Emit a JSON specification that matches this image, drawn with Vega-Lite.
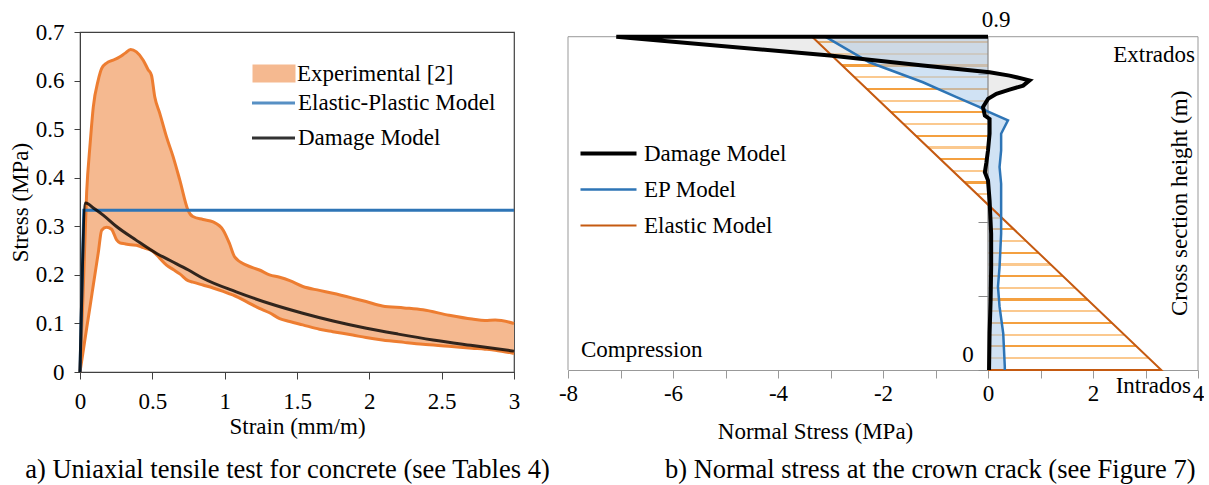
{
  "$schema": "https://vega.github.io/schema/vega-lite/v6.json",
  "padding": {"left": 8, "top": 8, "right": 0, "bottom": 0},
  "bounds": "flush",
  "spacing": 54,
  "resolve": {"scale": {"color": "independent", "fill": "independent", "stroke": "independent"}, "legend": {"color": "independent", "fill": "independent", "stroke": "independent"}},
  "config": {
    "font": "Liberation Serif",
    "text": {"font": "Liberation Serif", "fontSize": 23, "color": "black"},
    "axis": {"labelFont": "Liberation Serif", "titleFont": "Liberation Serif", "labelColor": "black", "titleColor": "black", "titleFontWeight": "normal", "grid": false, "labelFontSize": 23, "titleFontSize": 23},
    "legend": {"labelFont": "Liberation Serif", "labelColor": "black", "labelFontSize": 23, "labelLimit": 400}
  },
  "datasets": {
    "exp": [
      {"x":0,"upper":0,"lower":0},{"x":0.02,"upper":0.15,"lower":0.039},{"x":0.046,"upper":0.37,"lower":0.09},
      {"x":0.07,"upper":0.47,"lower":0.136},{"x":0.092,"upper":0.546,"lower":0.179},{"x":0.126,"upper":0.601,"lower":0.245},
      {"x":0.15,"upper":0.625,"lower":0.292},{"x":0.184,"upper":0.636,"lower":0.298},{"x":0.218,"upper":0.641,"lower":0.294},
      {"x":0.253,"upper":0.645,"lower":0.272},{"x":0.276,"upper":0.649,"lower":0.266},{"x":0.31,"upper":0.656,"lower":0.264},
      {"x":0.35,"upper":0.664,"lower":0.262},{"x":0.39,"upper":0.659,"lower":0.261},{"x":0.437,"upper":0.642,"lower":0.256},
      {"x":0.47,"upper":0.623,"lower":0.253},{"x":0.494,"upper":0.611,"lower":0.25},{"x":0.517,"upper":0.566,"lower":0.245},
      {"x":0.552,"upper":0.532,"lower":0.234},{"x":0.598,"upper":0.484,"lower":0.22},{"x":0.644,"upper":0.443,"lower":0.211},
      {"x":0.69,"upper":0.395,"lower":0.202},{"x":0.747,"upper":0.333,"lower":0.188},{"x":0.78,"upper":0.32,"lower":0.185},
      {"x":0.85,"upper":0.314,"lower":0.179},{"x":0.92,"upper":0.309,"lower":0.173},{"x":0.99,"upper":0.292,"lower":0.166},
      {"x":1.034,"upper":0.264,"lower":0.161},{"x":1.069,"upper":0.237,"lower":0.157},{"x":1.15,"upper":0.22,"lower":0.145},
      {"x":1.24,"upper":0.21,"lower":0.131},{"x":1.31,"upper":0.2,"lower":0.122},{"x":1.38,"upper":0.195,"lower":0.11},
      {"x":1.45,"upper":0.188,"lower":0.104},{"x":1.54,"upper":0.176,"lower":0.097},{"x":1.655,"upper":0.168,"lower":0.088},
      {"x":1.747,"upper":0.162,"lower":0.083},{"x":1.885,"upper":0.152,"lower":0.076},{"x":1.977,"upper":0.145,"lower":0.071},
      {"x":2.09,"upper":0.136,"lower":0.066},{"x":2.24,"upper":0.132,"lower":0.061},{"x":2.37,"upper":0.128,"lower":0.057},
      {"x":2.55,"upper":0.117,"lower":0.053},{"x":2.71,"upper":0.109,"lower":0.049},{"x":2.8,"upper":0.106,"lower":0.047},
      {"x":2.87,"upper":0.107,"lower":0.045},{"x":3,"upper":0.1,"lower":0.038}
    ],
    "dmg": [
      {"x":0,"y":0},{"x":0.039,"y":0.348},{"x":0.1,"y":0.336},{"x":0.16,"y":0.323},{"x":0.25,"y":0.3},
      {"x":0.39,"y":0.271},{"x":0.53,"y":0.244},{"x":0.62,"y":0.23},{"x":0.75,"y":0.21},{"x":0.85,"y":0.193},
      {"x":1.08,"y":0.165},{"x":1.2,"y":0.152},{"x":1.31,"y":0.141},{"x":1.54,"y":0.121},{"x":1.75,"y":0.105},
      {"x":1.98,"y":0.09},{"x":2.2,"y":0.078},{"x":2.44,"y":0.066},{"x":2.7,"y":0.055},{"x":3,"y":0.043}
    ],
    "ep": [{"x":0,"y":0},{"x":0.026,"y":0.333},{"x":3,"y":0.333}],
    "rdmg": [
      {"i":0,"x":0,"y":0.9},{"i":1,"x":-7.08,"y":0.9},{"i":2,"x":-3.01,"y":0.849},{"i":3,"x":-1.24,"y":0.822},
      {"i":4,"x":0.03,"y":0.804},{"i":5,"x":0.41,"y":0.795},{"i":6,"x":0.79,"y":0.782},{"i":7,"x":0.67,"y":0.768},
      {"i":8,"x":0.41,"y":0.757},{"i":9,"x":0.16,"y":0.746},{"i":10,"x":0,"y":0.732},{"i":11,"x":-0.095,"y":0.71},
      {"i":12,"x":-0.06,"y":0.687},{"i":13,"x":0.03,"y":0.678},{"i":14,"x":0.03,"y":0.638},{"i":15,"x":0,"y":0.593},
      {"i":16,"x":-0.03,"y":0.561},{"i":17,"x":-0.06,"y":0.534},{"i":18,"x":0,"y":0.512},{"i":19,"x":0.03,"y":0.458},
      {"i":20,"x":0.06,"y":0.368},{"i":21,"x":0.06,"y":0.278},{"i":22,"x":0.05,"y":0.189},{"i":23,"x":0.03,"y":0.099},
      {"i":24,"x":0.02,"y":0}
    ],
    "rep": [
      {"i":0,"x":-3.1,"y":0.9},{"i":1,"x":-2.26,"y":0.831},{"i":2,"x":-1.24,"y":0.777},{"i":3,"x":-0.6,"y":0.737},
      {"i":4,"x":-0.16,"y":0.71},{"i":5,"x":-0.03,"y":0.7},{"i":6,"x":0.38,"y":0.674},{"i":7,"x":0.25,"y":0.638},
      {"i":8,"x":0.25,"y":0.593},{"i":9,"x":0.22,"y":0.548},{"i":10,"x":0.25,"y":0.503},{"i":11,"x":0.25,"y":0.458},
      {"i":12,"x":0.25,"y":0.368},{"i":13,"x":0.22,"y":0.278},{"i":14,"x":0.19,"y":0.225},{"i":15,"x":0.22,"y":0.171},
      {"i":16,"x":0.29,"y":0.099},{"i":17,"x":0.32,"y":0.009},{"i":18,"x":0.32,"y":0}
    ],
    "rel": [{"i":0,"x":0,"y":0},{"i":1,"x":3.3,"y":0},{"i":2,"x":-3.35,"y":0.9}],
    "one": [{}]
  },
  "hconcat": [
    {
      "width": 434,
      "height": 340,
      "view": {"stroke": "#404040", "strokeWidth": 1.2},
      "layer": [
        {
          "data": {"name": "exp"},
          "mark": {"type": "area", "opacity": 1, "interpolate": "monotone"},
          "encoding": {
            "x": {"field": "x", "type": "quantitative", "title": "Strain (mm/m)",
              "scale": {"domain": [0, 3], "nice": false},
              "axis": {"values": [0, 0.5, 1, 1.5, 2, 2.5, 3], "format": ".1~f", "labelFlush": false, "tickSize": 7, "labelPadding": 11, "titlePadding": 2, "domainColor": "#404040", "tickColor": "#404040"}},
            "y": {"field": "upper", "type": "quantitative", "title": "Stress (MPa)",
              "scale": {"domain": [0, 0.7], "nice": false},
              "axis": {"values": [0, 0.1, 0.2, 0.3, 0.4, 0.5, 0.6, 0.7], "format": ".1~f", "tickSize": 6, "labelPadding": 10, "titlePadding": 3, "domainColor": "#404040", "tickColor": "#404040"}},
            "y2": {"field": "lower"},
            "fill": {"datum": "Experimental [2]",
              "scale": {"domain": ["Experimental [2]"], "range": ["#f5b990"]},
              "legend": {"orient": "none", "legendX": 172.5, "legendY": 20, "title": null, "padding": 0, "labelOffset": 1.5,
                "symbolType": "M-1,-0.42H1V0.42H-1Z", "symbolSize": 1849, "symbolStrokeWidth": 0, "symbolOpacity": 1}}
          }
        },
        {
          "data": {"name": "exp"},
          "mark": {"type": "line", "color": "#ed7d31", "strokeWidth": 3, "interpolate": "monotone"},
          "encoding": {
            "x": {"field": "x", "type": "quantitative", "title": "Strain (mm/m)"},
            "y": {"field": "upper", "type": "quantitative", "title": "Stress (MPa)"}
          }
        },
        {
          "data": {"name": "exp"},
          "mark": {"type": "line", "color": "#ed7d31", "strokeWidth": 3, "interpolate": "monotone"},
          "encoding": {
            "x": {"field": "x", "type": "quantitative", "title": "Strain (mm/m)"},
            "y": {"field": "lower", "type": "quantitative", "title": "Stress (MPa)"}
          }
        },
        {
          "data": {"name": "ep"},
          "mark": {"type": "line", "strokeWidth": 3},
          "encoding": {
            "x": {"field": "x", "type": "quantitative", "title": "Strain (mm/m)"},
            "y": {"field": "y", "type": "quantitative", "title": "Stress (MPa)"},
            "stroke": {"datum": "Elastic-Plastic Model",
              "scale": {"domain": ["Elastic-Plastic Model", "Damage Model"], "range": ["#2e75b6", "#000000"]},
              "legend": {"orient": "none", "legendX": 170.5, "legendY": 48, "title": null, "padding": 0, "labelOffset": 1.5, "rowPadding": -11,
                "symbolType": "stroke", "symbolSize": 1849, "symbolStrokeWidth": 3, "symbolOpacity": 1}}
          }
        },
        {
          "data": {"name": "dmg"},
          "mark": {"type": "line", "strokeWidth": 3, "interpolate": "monotone", "opacity": 0.8},
          "encoding": {
            "x": {"field": "x", "type": "quantitative", "title": "Strain (mm/m)"},
            "y": {"field": "y", "type": "quantitative", "title": "Stress (MPa)"},
            "stroke": {"datum": "Damage Model"}
          }
        },
        {
          "data": {"name": "one"},
          "mark": {"type": "text", "text": "a) Uniaxial tensile test for concrete (see Tables 4)", "fontSize": 26.5, "align": "center", "baseline": "alphabetic", "dx": -9.5, "dy": 106},
          "encoding": {"x": {"datum": 1.5}, "y": {"datum": 0}}
        }
      ]
    },
    {
      "width": 630,
      "height": 338,
      "view": {"stroke": null},
      "layer": [
        {
          "data": {"name": "rel"},
          "transform": [{"filter": "datum.i > 0"}],
          "mark": {"type": "area", "orient": "horizontal", "opacity": 1,
            "fill": {"gradient": "linear", "x1": 0, "y1": 0, "x2": 0, "y2": 1, "stops": [
              {"offset": 0, "color": "rgba(255,255,255,0)"},
              {"offset": 0.0131, "color": "rgba(255,255,255,0)"}, {"offset": 0.0131, "color": "#f4a040"}, {"offset": 0.0197, "color": "#f4a040"}, {"offset": 0.0197, "color": "rgba(255,255,255,0)"},
              {"offset": 0.0482, "color": "rgba(255,255,255,0)"}, {"offset": 0.0482, "color": "#fbc98f"}, {"offset": 0.0548, "color": "#fbc98f"}, {"offset": 0.0548, "color": "rgba(255,255,255,0)"},
              {"offset": 0.0833, "color": "rgba(255,255,255,0)"}, {"offset": 0.0833, "color": "#f4a040"}, {"offset": 0.0899, "color": "#f4a040"}, {"offset": 0.0899, "color": "rgba(255,255,255,0)"},
              {"offset": 0.1184, "color": "rgba(255,255,255,0)"}, {"offset": 0.1184, "color": "#fbc98f"}, {"offset": 0.1250, "color": "#fbc98f"}, {"offset": 0.1250, "color": "rgba(255,255,255,0)"},
              {"offset": 0.1535, "color": "rgba(255,255,255,0)"}, {"offset": 0.1535, "color": "#f4a040"}, {"offset": 0.1601, "color": "#f4a040"}, {"offset": 0.1601, "color": "rgba(255,255,255,0)"},
              {"offset": 0.1886, "color": "rgba(255,255,255,0)"}, {"offset": 0.1886, "color": "#fbc98f"}, {"offset": 0.1952, "color": "#fbc98f"}, {"offset": 0.1952, "color": "rgba(255,255,255,0)"},
              {"offset": 0.2237, "color": "rgba(255,255,255,0)"}, {"offset": 0.2237, "color": "#f4a040"}, {"offset": 0.2303, "color": "#f4a040"}, {"offset": 0.2303, "color": "rgba(255,255,255,0)"},
              {"offset": 0.2588, "color": "rgba(255,255,255,0)"}, {"offset": 0.2588, "color": "#fbc98f"}, {"offset": 0.2654, "color": "#fbc98f"}, {"offset": 0.2654, "color": "rgba(255,255,255,0)"},
              {"offset": 0.2939, "color": "rgba(255,255,255,0)"}, {"offset": 0.2939, "color": "#f4a040"}, {"offset": 0.3005, "color": "#f4a040"}, {"offset": 0.3005, "color": "rgba(255,255,255,0)"},
              {"offset": 0.3290, "color": "rgba(255,255,255,0)"}, {"offset": 0.3290, "color": "#fbc98f"}, {"offset": 0.3356, "color": "#fbc98f"}, {"offset": 0.3356, "color": "rgba(255,255,255,0)"},
              {"offset": 0.3641, "color": "rgba(255,255,255,0)"}, {"offset": 0.3641, "color": "#f4a040"}, {"offset": 0.3707, "color": "#f4a040"}, {"offset": 0.3707, "color": "rgba(255,255,255,0)"},
              {"offset": 0.3992, "color": "rgba(255,255,255,0)"}, {"offset": 0.3992, "color": "#fbc98f"}, {"offset": 0.4058, "color": "#fbc98f"}, {"offset": 0.4058, "color": "rgba(255,255,255,0)"},
              {"offset": 0.4343, "color": "rgba(255,255,255,0)"}, {"offset": 0.4343, "color": "#f4a040"}, {"offset": 0.4409, "color": "#f4a040"}, {"offset": 0.4409, "color": "rgba(255,255,255,0)"},
              {"offset": 0.4694, "color": "rgba(255,255,255,0)"}, {"offset": 0.4694, "color": "#fbc98f"}, {"offset": 0.4760, "color": "#fbc98f"}, {"offset": 0.4760, "color": "rgba(255,255,255,0)"},
              {"offset": 0.5045, "color": "rgba(255,255,255,0)"}, {"offset": 0.5045, "color": "#f4a040"}, {"offset": 0.5111, "color": "#f4a040"}, {"offset": 0.5111, "color": "rgba(255,255,255,0)"},
              {"offset": 0.5396, "color": "rgba(255,255,255,0)"}, {"offset": 0.5396, "color": "#fbc98f"}, {"offset": 0.5462, "color": "#fbc98f"}, {"offset": 0.5462, "color": "rgba(255,255,255,0)"},
              {"offset": 0.5747, "color": "rgba(255,255,255,0)"}, {"offset": 0.5747, "color": "#f4a040"}, {"offset": 0.5813, "color": "#f4a040"}, {"offset": 0.5813, "color": "rgba(255,255,255,0)"},
              {"offset": 0.6098, "color": "rgba(255,255,255,0)"}, {"offset": 0.6098, "color": "#fbc98f"}, {"offset": 0.6164, "color": "#fbc98f"}, {"offset": 0.6164, "color": "rgba(255,255,255,0)"},
              {"offset": 0.6449, "color": "rgba(255,255,255,0)"}, {"offset": 0.6449, "color": "#f4a040"}, {"offset": 0.6515, "color": "#f4a040"}, {"offset": 0.6515, "color": "rgba(255,255,255,0)"},
              {"offset": 0.6800, "color": "rgba(255,255,255,0)"}, {"offset": 0.6800, "color": "#fbc98f"}, {"offset": 0.6866, "color": "#fbc98f"}, {"offset": 0.6866, "color": "rgba(255,255,255,0)"},
              {"offset": 0.7151, "color": "rgba(255,255,255,0)"}, {"offset": 0.7151, "color": "#f4a040"}, {"offset": 0.7217, "color": "#f4a040"}, {"offset": 0.7217, "color": "rgba(255,255,255,0)"},
              {"offset": 0.7502, "color": "rgba(255,255,255,0)"}, {"offset": 0.7502, "color": "#fbc98f"}, {"offset": 0.7568, "color": "#fbc98f"}, {"offset": 0.7568, "color": "rgba(255,255,255,0)"},
              {"offset": 0.7853, "color": "rgba(255,255,255,0)"}, {"offset": 0.7853, "color": "#f4a040"}, {"offset": 0.7919, "color": "#f4a040"}, {"offset": 0.7919, "color": "rgba(255,255,255,0)"},
              {"offset": 0.8204, "color": "rgba(255,255,255,0)"}, {"offset": 0.8204, "color": "#fbc98f"}, {"offset": 0.8270, "color": "#fbc98f"}, {"offset": 0.8270, "color": "rgba(255,255,255,0)"},
              {"offset": 0.8555, "color": "rgba(255,255,255,0)"}, {"offset": 0.8555, "color": "#f4a040"}, {"offset": 0.8621, "color": "#f4a040"}, {"offset": 0.8621, "color": "rgba(255,255,255,0)"},
              {"offset": 0.8906, "color": "rgba(255,255,255,0)"}, {"offset": 0.8906, "color": "#fbc98f"}, {"offset": 0.8972, "color": "#fbc98f"}, {"offset": 0.8972, "color": "rgba(255,255,255,0)"},
              {"offset": 0.9257, "color": "rgba(255,255,255,0)"}, {"offset": 0.9257, "color": "#f4a040"}, {"offset": 0.9323, "color": "#f4a040"}, {"offset": 0.9323, "color": "rgba(255,255,255,0)"},
              {"offset": 0.9608, "color": "rgba(255,255,255,0)"}, {"offset": 0.9608, "color": "#fbc98f"}, {"offset": 0.9674, "color": "#fbc98f"}, {"offset": 0.9674, "color": "rgba(255,255,255,0)"},
              {"offset": 1, "color": "rgba(255,255,255,0)"}
            ]}},
          "encoding": {
            "x": {"field": "x", "type": "quantitative", "title": "Normal Stress (MPa)",
              "scale": {"domain": [-8, 4], "nice": false},
              "axis": {"values": [-8, -7, -6, -5, -4, -3, -2, -1, 0, 1, 2, 3, 4], "labelFlush": false,
                "labelExpr": "datum.value % 2 === 0 ? (datum.value < 0 ? '-' + (-datum.value) : '' + datum.value) : ''",
                "tickSize": 8, "labelPadding": 4, "domainColor": "#999999", "tickColor": "#999999",
                "titleX": 247, "titleY": 68, "titleBaseline": "alphabetic", "titleAlign": "center"}},
            "x2": {"datum": 0},
            "y": {"field": "y", "type": "quantitative", "title": null,
              "scale": {"domain": [0, 0.9127], "nice": false},
              "axis": {"orient": "left", "offset": -420, "values": [0, 0.1, 0.2, 0.3, 0.4, 0.5, 0.6, 0.7, 0.8, 0.9], "labels": false, "domain": false, "tickSize": 10, "tickColor": "#888888", "title": null}}
          }
        },
        {
          "data": {"name": "rep"},
          "mark": {"type": "area", "orient": "horizontal", "color": "#a9cbeb", "opacity": 0.55},
          "encoding": {
            "x": {"field": "x", "type": "quantitative", "title": "Normal Stress (MPa)"},
            "x2": {"datum": 0},
            "y": {"field": "y", "type": "quantitative", "title": null}
          }
        },
        {
          "data": {"name": "rdmg"},
          "transform": [{"filter": "datum.i > 0"}],
          "mark": {"type": "area", "orient": "horizontal", "color": "#c8c8c8", "opacity": 0.35},
          "encoding": {
            "x": {"field": "x", "type": "quantitative", "title": "Normal Stress (MPa)"},
            "x2": {"datum": 0},
            "y": {"field": "y", "type": "quantitative", "title": null}
          }
        },
        {
          "data": {"name": "one"},
          "mark": {"type": "rule", "color": "#999999", "strokeWidth": 1},
          "encoding": {"x": {"datum": -8}, "x2": {"datum": 4}, "y": {"datum": 0.9}}
        },
        {
          "data": {"name": "one"},
          "mark": {"type": "rule", "color": "#999999", "strokeWidth": 1},
          "encoding": {"x": {"datum": -8}, "y": {"datum": 0}, "y2": {"datum": 0.9}}
        },
        {
          "data": {"name": "one"},
          "mark": {"type": "rule", "color": "#999999", "strokeWidth": 1},
          "encoding": {"x": {"datum": 4}, "y": {"datum": 0}, "y2": {"datum": 0.9}}
        },
        {
          "data": {"name": "one"},
          "mark": {"type": "rule", "color": "#888888", "strokeWidth": 1.2},
          "encoding": {"x": {"datum": 0}, "y": {"datum": 0}, "y2": {"datum": 0.9}}
        },
        {
          "data": {"name": "rel"},
          "mark": {"type": "line", "strokeWidth": 2},
          "encoding": {
            "x": {"field": "x", "type": "quantitative", "title": "Normal Stress (MPa)"},
            "y": {"field": "y", "type": "quantitative", "title": null},
            "order": {"field": "i", "type": "quantitative"},
            "color": {"datum": "Elastic Model",
              "scale": {"domain": ["Damage Model", "EP Model", "Elastic Model"], "range": ["#000000", "#2e75b6", "#c55a11"]},
              "legend": {"orient": "none", "legendX": 29, "legendY": 110, "title": null, "padding": 0, "labelOffset": 24, "rowPadding": 12,
                "symbolType": "stroke", "symbolSize": 3136, "symbolStrokeWidth": 2.5,
                "encode": {"symbols": {"update": {
                  "strokeWidth": {"signal": "datum.value === 'Damage Model' ? 4 : (datum.value === 'EP Model' ? 2.5 : 2)"},
                  "opacity": {"value": 1}
                }}}}
            }
          }
        },
        {
          "data": {"name": "rep"},
          "mark": {"type": "line", "strokeWidth": 2.5},
          "encoding": {
            "x": {"field": "x", "type": "quantitative", "title": "Normal Stress (MPa)"},
            "y": {"field": "y", "type": "quantitative", "title": null},
            "order": {"field": "i", "type": "quantitative"},
            "color": {"datum": "EP Model"}
          }
        },
        {
          "data": {"name": "rdmg"},
          "mark": {"type": "line", "strokeWidth": 4},
          "encoding": {
            "x": {"field": "x", "type": "quantitative", "title": "Normal Stress (MPa)"},
            "y": {"field": "y", "type": "quantitative", "title": null},
            "order": {"field": "i", "type": "quantitative"},
            "color": {"datum": "Damage Model"}
          }
        },
        {
          "data": {"name": "one"},
          "mark": {"type": "text", "text": "Extrados", "align": "right", "baseline": "alphabetic", "dx": -3, "dy": 25},
          "encoding": {"x": {"datum": 4}, "y": {"datum": 0.9}}
        },
        {
          "data": {"name": "one"},
          "mark": {"type": "text", "text": "Intrados", "align": "right", "baseline": "alphabetic", "dx": -7, "dy": 23},
          "encoding": {"x": {"datum": 4}, "y": {"datum": 0}}
        },
        {
          "data": {"name": "one"},
          "mark": {"type": "text", "text": "Compression", "align": "left", "baseline": "alphabetic", "dx": 13, "dy": -13},
          "encoding": {"x": {"datum": -8}, "y": {"datum": 0}}
        },
        {
          "data": {"name": "one"},
          "mark": {"type": "text", "text": "0", "align": "center", "baseline": "alphabetic", "dx": -20, "dy": -8},
          "encoding": {"x": {"datum": 0}, "y": {"datum": 0}}
        },
        {
          "data": {"name": "one"},
          "mark": {"type": "text", "text": "0.9", "align": "center", "baseline": "alphabetic", "dx": 8, "dy": -10},
          "encoding": {"x": {"datum": 0}, "y": {"datum": 0.9}}
        },
        {
          "data": {"name": "one"},
          "mark": {"type": "text", "text": "Cross section height (m)", "align": "center", "baseline": "middle", "angle": 270, "dy": -18},
          "encoding": {"x": {"datum": 4}, "y": {"datum": 0.45}}
        },
        {
          "data": {"name": "one"},
          "mark": {"type": "text", "text": "b) Normal stress at the crown crack (see Figure 7)", "fontSize": 26.5, "align": "center", "baseline": "alphabetic", "dx": -57.8, "dy": 108},
          "encoding": {"x": {"datum": 0}, "y": {"datum": 0}}
        }
      ]
    }
  ]
}
